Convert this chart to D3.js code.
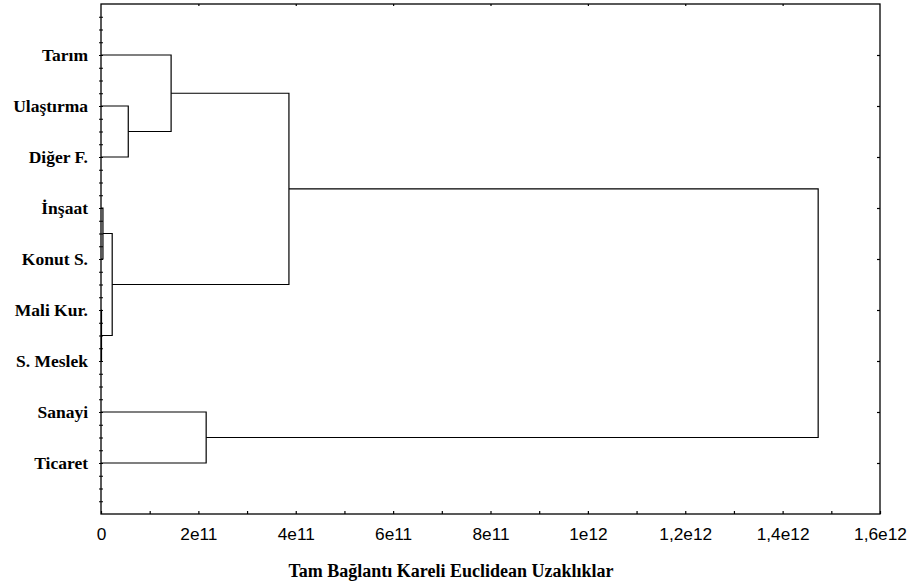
<!DOCTYPE html>
<html>
<head>
<meta charset="utf-8">
<script src="https://cdn.jsdelivr.net/npm/d3@7"></script>
<style>
  html, body { margin: 0; padding: 0; background: #fff; }
  svg { display: block; }
</style>
</head>
<body>
<svg id="chart" width="913" height="587"></svg>
<script>
// Leaf labels, top to bottom
const leaves = ["Tarım", "Ulaştırma", "Diğer F.", "İnşaat", "Konut S.", "Mali Kur.", "S. Meslek", "Sanayi", "Ticaret"];

// Complete-linkage merges: node ids 0..8 are leaves, merge i creates node 9 + i
const mergeLeft   = [1, 3, 5, 10, 0, 7, 13, 15];
const mergeRight  = [2, 4, 6, 11, 9, 8, 12, 14];
const mergeHeight = [0.56e11, 0.04e11, 0.01e11, 0.23e11, 1.44e11, 2.16e11, 3.86e11, 1.473e12];

// Axis ticks
const xMajorTicks = [0, 2e11, 4e11, 6e11, 8e11, 1e12, 1.2e12, 1.4e12, 1.6e12];
const xTickLabels = ["0", "2e11", "4e11", "6e11", "8e11", "1e12", "1,2e12", "1,4e12", "1,6e12"];
const xMinorTicks = [1e11, 3e11, 5e11, 7e11, 9e11, 1.1e12, 1.3e12, 1.5e12];
const xTitle = "Tam Bağlantı Kareli Euclidean Uzaklıklar";

const svg = d3.select("#chart");
const plotLeft = 101, plotRight = 880, plotTop = 4, plotBottom = 514;

const x = d3.scaleLinear().domain([0, 1.6e12]).range([plotLeft, plotRight]);
// Slot positions: leaves sit at slots 1..9, frame spans 0..10
const y = d3.scaleLinear().domain([0, 10]).range([plotTop, plotBottom]);

const ink = "#000";

// Frame
svg.append("rect")
  .attr("x", plotLeft).attr("y", plotTop)
  .attr("width", plotRight - plotLeft).attr("height", plotBottom - plotTop)
  .attr("fill", "none").attr("stroke", ink).attr("stroke-width", 1.3);

// Left axis: ticks crossing the axis line, with leaf labels
const yMajor = d3.range(1, 10);
const yMinor = d3.range(0, 10.01, 0.25).filter(v => !Number.isInteger(v));

const leftAxis = svg.append("g").attr("transform", `translate(${plotLeft},0)`)
  .call(d3.axisLeft(y).tickValues(yMajor).tickSize(2).tickPadding(11)
    .tickFormat(d => leaves[d - 1]));
leftAxis.select(".domain").remove();
leftAxis.selectAll("text")
  .attr("font-family", "Liberation Serif, Times New Roman, serif")
  .attr("font-weight", "bold")
  .attr("font-size", "17.5px")
  .attr("fill", ink);

svg.append("g").attr("transform", `translate(${plotLeft},0)`)
  .call(d3.axisLeft(y).tickValues(yMinor).tickSize(2).tickFormat(""))
  .call(g => g.select(".domain").remove());
svg.append("g").attr("transform", `translate(${plotLeft},0)`)
  .call(d3.axisRight(y).tickValues(yMajor.concat(yMinor)).tickSize(2).tickFormat(""))
  .call(g => g.select(".domain").remove());

// Right axis: inward major ticks
svg.append("g").attr("transform", `translate(${plotRight},0)`)
  .call(d3.axisLeft(y).tickValues(yMajor).tickSize(3).tickFormat(""))
  .call(g => g.select(".domain").remove());

// Top axis: inward major ticks
svg.append("g").attr("transform", `translate(0,${plotTop})`)
  .call(d3.axisBottom(x).tickValues(xMajorTicks.slice(1, -1)).tickSize(2).tickFormat(""))
  .call(g => g.select(".domain").remove());

// Bottom axis: inward ticks, labels below
svg.append("g").attr("transform", `translate(0,${plotBottom})`)
  .call(d3.axisTop(x).tickValues(xMajorTicks.concat(xMinorTicks)).tickSize(3).tickFormat(""))
  .call(g => g.select(".domain").remove());

const bottomLabels = svg.append("g").attr("transform", `translate(0,${plotBottom})`)
  .call(d3.axisBottom(x).tickValues(xMajorTicks).tickSize(0).tickPadding(14)
    .tickFormat((d, i) => xTickLabels[i]));
bottomLabels.select(".domain").remove();
bottomLabels.selectAll("text")
  .attr("font-family", "Liberation Sans, Arial, sans-serif")
  .attr("font-size", "17.3px")
  .attr("fill", ink);

svg.selectAll(".tick line").attr("stroke", ink).attr("stroke-width", 1.2);

// Axis title
svg.append("text")
  .attr("x", 451).attr("y", 577)
  .attr("text-anchor", "middle")
  .attr("font-family", "Liberation Serif, Times New Roman, serif")
  .attr("font-weight", "bold")
  .attr("font-size", "18px")
  .attr("fill", ink)
  .text(xTitle);

// Dendrogram: compute node positions, then draw bracket links
const nodeY = leaves.map((_, i) => y(i + 1));
const nodeH = leaves.map(() => 0);
mergeLeft.forEach((a, i) => {
  const b = mergeRight[i];
  nodeY.push((nodeY[a] + nodeY[b]) / 2);
  nodeH.push(mergeHeight[i]);
});

const links = svg.append("g")
  .attr("fill", "none")
  .attr("stroke", ink)
  .attr("stroke-width", 1.2);

mergeLeft.forEach((a, i) => {
  const b = mergeRight[i];
  const h = x(mergeHeight[i]);
  links.append("path").attr("d", d3.line()([
    [x(nodeH[a]), nodeY[a]],
    [h, nodeY[a]],
    [h, nodeY[b]],
    [x(nodeH[b]), nodeY[b]]
  ]));
});
</script>
</body>
</html>
